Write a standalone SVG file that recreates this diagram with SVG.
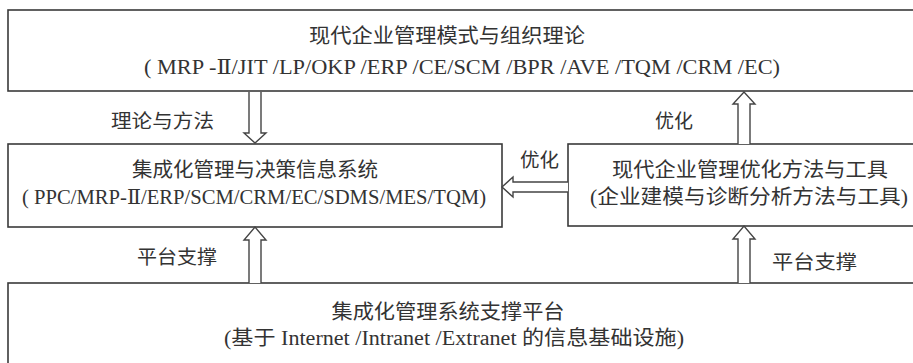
<svg xmlns="http://www.w3.org/2000/svg" width="913" height="363" viewBox="0 0 913 363">
<style>
.box{fill:#fff;stroke:#3a3a3a;stroke-width:1.6}
.arr{fill:#fff;stroke:#444;stroke-width:1.4;stroke-linejoin:miter}
.t{font-family:"Liberation Serif","DejaVu Serif","Noto Sans CJK SC",serif;font-size:20px;fill:#333;text-anchor:middle;dominant-baseline:central}
.lb{font-family:"Noto Sans CJK SC","Liberation Serif",sans-serif;font-size:19px;fill:#333;dominant-baseline:central}
</style>
<rect width="913" height="363" fill="#fff"/>
<g id="node-top">
<rect class="box" x="8" y="10" width="920" height="81"/>
<text class="t" x="447" y="36" textLength="276" lengthAdjust="spacingAndGlyphs">现代企业管理模式与组织理论</text>
<text class="t" x="462" y="67" textLength="636" lengthAdjust="spacingAndGlyphs">( MRP -Ⅱ/JIT /LP/OKP /ERP /CE/SCM /BPR /AVE /TQM /CRM /EC)</text>
</g>
<g id="node-mis">
<rect class="box" x="8" y="144" width="494" height="83"/>
<text class="t" x="255" y="170" textLength="246" lengthAdjust="spacingAndGlyphs">集成化管理与决策信息系统</text>
<text class="t" x="254" y="197" textLength="464" lengthAdjust="spacingAndGlyphs">( PPC/MRP-Ⅱ/ERP/SCM/CRM/EC/SDMS/MES/TQM)</text>
</g>
<g id="node-opt">
<rect class="box" x="568" y="144" width="360" height="82"/>
<text class="t" x="750" y="170" textLength="276" lengthAdjust="spacingAndGlyphs">现代企业管理优化方法与工具</text>
<text class="t" x="749" y="197" textLength="318" lengthAdjust="spacingAndGlyphs">(企业建模与诊断分析方法与工具)</text>
</g>
<g id="node-platform">
<rect class="box" x="8" y="283" width="920" height="90"/>
<text class="t" x="448" y="312" textLength="233" lengthAdjust="spacingAndGlyphs">集成化管理系统支撑平台</text>
<text class="t" x="454" y="338" textLength="460" lengthAdjust="spacingAndGlyphs">(基于 Internet /Intranet /Extranet 的信息基础设施)</text>
</g>
<g id="connectors">
<polyline class="arr" points="249,92 249,133 244,133 255,143 266,133 261,133 261,92"/>
<polyline class="arr" points="738,144 738,104 733,104 744,92 755,104 750,104 750,144"/>
<polyline class="arr" points="568,182 513,182 513,177 502,187 513,197 513,192 568,192"/>
<polyline class="arr" points="249,283 249,240 244,240 255,227 266,240 261,240 261,283"/>
<polyline class="arr" points="738,283 738,239 733,239 744,226 755,239 750,239 750,283"/>
<text class="lb" x="111" y="119" textLength="103" lengthAdjust="spacingAndGlyphs">理论与方法</text>
<text class="lb" x="655" y="119" textLength="38" lengthAdjust="spacingAndGlyphs">优化</text>
<text class="lb" x="520" y="158" textLength="39" lengthAdjust="spacingAndGlyphs">优化</text>
<text class="lb" x="137" y="255" textLength="80" lengthAdjust="spacingAndGlyphs">平台支撑</text>
<text class="lb" x="772" y="260" textLength="85" lengthAdjust="spacingAndGlyphs">平台支撑</text>
</g>
</svg>
